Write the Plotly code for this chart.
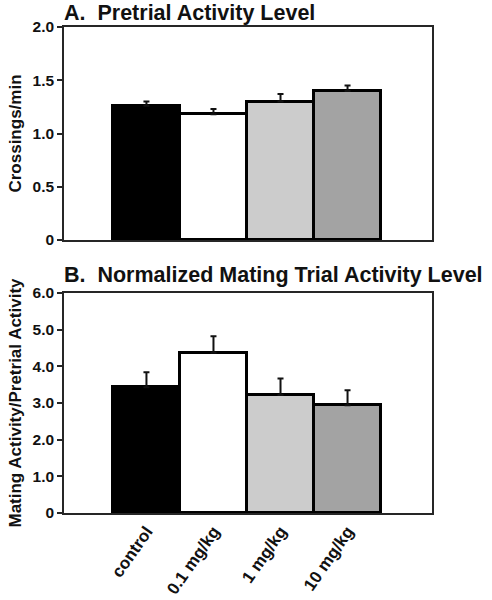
import plotly.graph_objects as go

categories = ["control", "0.1 mg/kg", "1 mg/kg", "10 mg/kg"]
pretrial_mean = [1.26, 1.18, 1.30, 1.40]
pretrial_sem = [0.04, 0.05, 0.07, 0.05]
normalized_mean = [3.43, 4.37, 3.22, 2.94]
normalized_sem = [0.41, 0.45, 0.45, 0.41]
bar_colors = ["#000000", "#ffffff", "#cccccc", "#a3a3a3"]

y_ticks_a = [0, 0.5, 1.0, 1.5, 2.0]
y_ticklabels_a = ["0", "0.5", "1.0", "1.5", "2.0"]
y_ticks_b = [0, 1, 2, 3, 4, 5, 6]
y_ticklabels_b = ["0", "1.0", "2.0", "3.0", "4.0", "5.0", "6.0"]

FONT = "Liberation Sans, Arial, Helvetica, sans-serif"
INK = "#111111"

fig = go.Figure()

fig.add_trace(go.Bar(
    x=categories, y=pretrial_mean,
    marker=dict(color=bar_colors, line=dict(color="#000000", width=3)),
    error_y=dict(type="data", array=pretrial_sem, arrayminus=[0]*4, symmetric=False,
                 color="#111111", thickness=2, width=3),
    xaxis="x", yaxis="y", showlegend=False, hoverinfo="skip",
))
fig.add_trace(go.Bar(
    x=categories, y=normalized_mean,
    marker=dict(color=bar_colors, line=dict(color="#000000", width=3)),
    error_y=dict(type="data", array=normalized_sem, arrayminus=[0]*4, symmetric=False,
                 color="#111111", thickness=2, width=3),
    xaxis="x2", yaxis="y2", showlegend=False, hoverinfo="skip",
))

axis_common = dict(showline=True, linecolor="#262626", linewidth=1.6, mirror=True,
                   showgrid=False, zeroline=False, automargin=False)
tick_font = dict(size=15.5, weight=700, family=FONT, color=INK)
ytitle_font = dict(size=17, weight=700, family=FONT, color=INK)

fig.update_layout(
    width=492, height=600,
    margin=dict(l=64, r=60, t=27, b=87),
    paper_bgcolor="white", plot_bgcolor="white",
    bargap=0,
    font=dict(family=FONT, color=INK),
    xaxis=dict(domain=[0, 1], range=[-1.23, 4.26], showticklabels=False, ticks="",
               anchor="y", **axis_common),
    yaxis=dict(domain=[0.5617, 1], range=[0, 2.0], tickvals=y_ticks_a, ticktext=y_ticklabels_a,
               ticks="outside", ticklen=5, tickwidth=1.5, tickcolor="#262626",
               tickfont=tick_font,
               title=dict(text="Crossings/min", font=ytitle_font, standoff=7),
               anchor="x", **axis_common),
    xaxis2=dict(domain=[0, 1], range=[-1.23, 4.26], ticks="", tickangle=-55,
                tickfont=dict(size=17, weight=700, family=FONT, color=INK),
                anchor="y2", **axis_common),
    yaxis2=dict(domain=[0, 0.4527], range=[0, 6.0], tickvals=y_ticks_b, ticktext=y_ticklabels_b,
                ticks="outside", ticklen=5, tickwidth=1.5, tickcolor="#262626",
                tickfont=tick_font,
                title=dict(text="Mating Activity/Pretrial Activity", font=ytitle_font, standoff=7),
                anchor="x2", **axis_common),
    annotations=[
        dict(text="A.\u00a0 Pretrial Activity Level", xref="paper", yref="paper", x=-0.005, y=1.0288,
             xanchor="left", yanchor="middle", showarrow=False,
             font=dict(size=21.5, weight=700, family=FONT, color=INK)),
        dict(text="B.\u00a0 Normalized Mating Trial Activity Level", xref="paper", yref="paper", x=-0.005, y=0.4897,
             xanchor="left", yanchor="middle", showarrow=False,
             font=dict(size=21.5, weight=700, family=FONT, color=INK)),
    ],
)

fig.write_html("out.html", config={"displayModeBar": False},
               post_script="document.body.style.margin='0';")
